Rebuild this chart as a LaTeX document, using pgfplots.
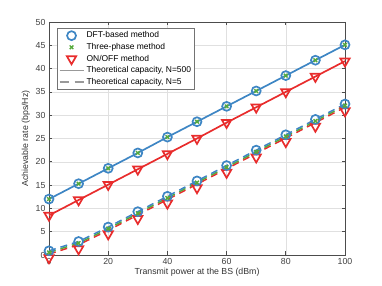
\documentclass[border=0pt]{standalone}
\usepackage{pgfplots}
\pgfplotsset{compat=1.18}
\usepackage{fontspec}
\setmainfont{Liberation Sans}
\definecolor{cblue}{RGB}{62,134,196}
\definecolor{cgreen}{RGB}{86,170,60}
\definecolor{cred}{RGB}{232,44,44}
\pgfplotsset{
  markleg/.style={legend image code/.code={\draw[##1] plot coordinates {(0.42cm,0cm)};}},
  lineleg/.style={legend image code/.code={\draw[##1] (0cm,0cm) -- (0.85cm,0cm);}},
}
\begin{document}
\begin{tikzpicture}[font=\fontsize{8.8}{10}\selectfont]
\begin{axis}[
  scale only axis, width=296bp, height=233bp,
  xmin=0, xmax=100, ymin=0, ymax=50,
  xtick={0,20,...,100}, ytick={0,5,...,50},
  grid=major, grid style={black!12, line width=0.5pt},
  axis line style={black!70, line width=0.7pt},
  tick style={black!70, line width=0.7pt},
  major tick length=3.5bp,
  tick align=inside, tick pos=both,
  xlabel={Transmit power at the BS (dBm)},
  ylabel={Achievable rate (bps/Hz)},
  every axis label/.style={font=\fontsize{8.8}{10}\selectfont},
  xlabel style={yshift=3bp},
  ylabel style={yshift=-1bp},
  ticklabel style={font=\fontsize{8.8}{10}\selectfont, text=black!75},
  label style={text=black!80},
  /pgf/number format/assume math mode=true,
  clip=false,
  legend style={at={(0.027,0.974)}, anchor=north west, draw=black!55, fill=white,
    font=\fontsize{8.5}{10.2}\selectfont, inner sep=1.5pt, row sep=0pt, line width=0.6pt},
  legend cell align=left,
]
% ---------- upper (N=500) ----------
\addplot[forget plot, cblue, line width=1.7pt, mark=o, mark size=4.5pt, mark options={solid}] coordinates {
(0,12.0) (10,15.3) (20,18.6) (30,21.9) (40,25.3) (50,28.6) (60,31.9) (70,35.2) (80,38.5) (90,41.8) (100,45.1)};
\addplot[forget plot, cgreen, line width=1.4pt, only marks, mark=x, mark size=2.6pt] coordinates {
(0,12.0) (10,15.3) (20,18.6) (30,21.9) (40,25.3) (50,28.6) (60,31.9) (70,35.2) (80,38.5) (90,41.8) (100,45.1)};
\addplot[forget plot, cred, line width=1.7pt, mark=triangle, mark size=5.4pt, mark options={rotate=180, solid}] coordinates {
(0,8.5) (10,11.8) (20,15.1) (30,18.4) (40,21.7) (50,25.0) (60,28.4) (70,31.7) (80,35.0) (90,38.3) (100,41.6)};
% ---------- lower (N=5) ----------
\addplot[forget plot, cred, line width=1.5pt, dash pattern=on 7bp off 5bp] coordinates {
(0,0.2) (10,2.2) (20,5.3) (30,8.6) (40,11.9) (50,15.2) (60,18.5) (70,21.8) (80,25.1) (90,28.4) (100,31.7)};
\addplot[forget plot, cgreen, line width=1.5pt, dash pattern=on 7bp off 5bp] coordinates {
(0,0.55) (10,2.55) (20,5.65) (30,8.95) (40,12.25) (50,15.55) (60,18.85) (70,22.15) (80,25.45) (90,28.75) (100,32.05)};
\addplot[forget plot, cblue, line width=1.5pt, dash pattern=on 7bp off 5bp] coordinates {
(0,0.9) (10,2.9) (20,6.0) (30,9.3) (40,12.6) (50,15.9) (60,19.2) (70,22.5) (80,25.8) (90,29.1) (100,32.4)};
\addplot[forget plot, cred, line width=1.7pt, only marks, mark=triangle, mark size=5.4pt, mark options={rotate=180}] coordinates {
(0,-0.6) (10,1.3) (20,4.5) (30,7.8) (40,11.1) (50,14.4) (60,17.7) (70,21.0) (80,24.3) (90,27.6) (100,30.9)};
\addplot[forget plot, cblue, line width=1.7pt, only marks, mark=o, mark size=4.5pt] coordinates {
(0,0.9) (10,2.9) (20,6.0) (30,9.3) (40,12.6) (50,15.9) (60,19.2) (70,22.5) (80,25.8) (90,29.1) (100,32.4)};
\addplot[forget plot, cgreen, line width=1.4pt, only marks, mark=x, mark size=2.6pt] coordinates {
(0,0.55) (10,2.55) (20,5.65) (30,8.95) (40,12.25) (50,15.55) (60,18.85) (70,22.15) (80,25.45) (90,28.75) (100,32.05)};
% ---------- legend ----------
\addlegendimage{only marks, mark=o, cblue, mark size=4.5pt, line width=1.7pt, markleg}
\addlegendentry{DFT-based method}
\addlegendimage{only marks, mark=x, cgreen, mark size=2.6pt, line width=1.4pt, markleg}
\addlegendentry{Three-phase method}
\addlegendimage{only marks, mark=triangle, cred, mark size=5.4pt, line width=1.7pt, mark options={rotate=180}, markleg}
\addlegendentry{ON/OFF method}
\addlegendimage{black!40, line width=1.7pt, lineleg}
\addlegendentry{Theoretical capacity, N=500}
\addlegendimage{black!40, line width=1.7pt, dash pattern=on 9bp off 6bp, lineleg}
\addlegendentry{Theoretical capacity, N=5}
\end{axis}
\path (current axis.south west) ++(-49bp,-31bp) rectangle ++(382bp,286bp);
\end{tikzpicture}
\end{document}
